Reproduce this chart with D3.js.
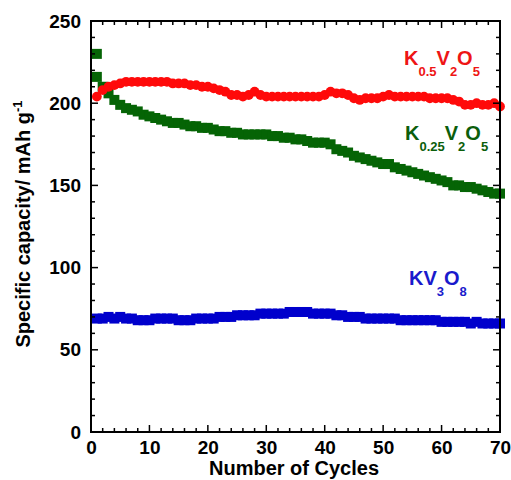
<!DOCTYPE html>
<html><head><meta charset="utf-8">
<script src="https://cdn.jsdelivr.net/npm/d3@7"></script>
<style>html,body{margin:0;padding:0;background:#fff;}svg{display:block;}</style>
</head><body>
<svg id="c" width="511" height="480"></svg>
<script>
// ---- data ----
const cycles = d3.range(1, 71);
const greenExtra = [{c: 1, v: 230}];
const greenVals = [216,210,206,202,199,197,196,195,193,192,191,190,189,188,188,187,186,186,185,185,184,183,183,182,182,181,181,181,181,181,180,180,179,179,178,178,177,176,176,176,175,172,171,170,168,167,166,165,164,163,163,161,160,159,158,157,156,155,154,153,152,150,150,149,149,148,147,146,145,145];
const redVals = [204,208,210,211,212,213,213,213,213,213,213,213,213,212,212,212,211,211,210,210,209,208,207,205,205,204,205,207,205,204,204,204,204,204,204,204,204,204,204,205,207,206,206,205,203,202,203,203,203,204,205,204,204,204,204,204,204,203,203,203,203,202,201,199,199,200,199,199,200,198];
const blueVals = [69,69,70,69,70,69,69,68,68,68,69,69,69,69,68,68,68,69,69,69,69,70,70,70,71,71,71,71,72,72,72,72,72,73,73,73,73,72,72,72,72,71,71,70,70,70,69,69,69,69,69,69,68,68,68,68,68,68,68,67,67,67,67,67,66,67,66,66,66,66];
const xTicks = [0,10,20,30,40,50,60,70];
const yTicks = [0,50,100,150,200,250];
const xTitle = "Number of Cycles";

const svg = d3.select("#c");
const L = 91, R = 500, T = 21, B = 432;
const x = d3.scaleLinear().domain([0, 70]).range([L, R]);
const y = d3.scaleLinear().domain([0, 250]).range([B, T]);
const font = "'Liberation Sans', Arial, Helvetica, sans-serif";

// series
const green = greenExtra.concat(cycles.map((c, i) => ({c, v: greenVals[i]})));
const red = cycles.map((c, i) => ({c, v: redVals[i]}));
const blue = cycles.map((c, i) => ({c, v: blueVals[i]}));

svg.append("g").selectAll("rect").data(blue).join("rect")
  .attr("x", d => x(d.c) - 5).attr("y", d => y(d.v) - 5)
  .attr("width", 10).attr("height", 10).attr("fill", "#0000cc");
svg.append("g").selectAll("rect").data(green).join("rect")
  .attr("x", d => x(d.c) - 5).attr("y", d => y(d.v) - 5)
  .attr("width", 10).attr("height", 10).attr("fill", "#056405");
svg.append("g").selectAll("circle").data(red).join("circle")
  .attr("cx", d => x(d.c)).attr("cy", d => y(d.v)).attr("r", 4.9).attr("fill", "#ff0a0a");

// axes ticks (inward)
const xMinor = d3.range(0, 71, 2);
const yMinor = d3.range(0, 251, 10);
const tg = svg.append("g").attr("stroke", "#000").attr("stroke-width", 1.5);
xMinor.forEach(t => {
  const len = t % 10 === 0 ? 7 : 4;
  tg.append("line").attr("x1", x(t)).attr("x2", x(t)).attr("y1", B).attr("y2", B - len);
  tg.append("line").attr("x1", x(t)).attr("x2", x(t)).attr("y1", T).attr("y2", T + len);
});
yMinor.forEach(t => {
  const len = t % 50 === 0 ? 7 : 4;
  tg.append("line").attr("y1", y(t)).attr("y2", y(t)).attr("x1", L).attr("x2", L + len);
  tg.append("line").attr("y1", y(t)).attr("y2", y(t)).attr("x1", R).attr("x2", R - len);
});
// frame
svg.append("rect").attr("x", L).attr("y", T).attr("width", R - L).attr("height", B - T)
  .attr("fill", "none").attr("stroke", "#000").attr("stroke-width", 2);

// tick labels via d3 axes
const xAxis = svg.append("g").attr("transform", `translate(0,${B})`)
  .call(d3.axisBottom(x).tickValues(xTicks).tickSize(0).tickPadding(9));
xAxis.select(".domain").remove();
xAxis.selectAll("text").attr("font-family", font).attr("font-weight", "bold").attr("font-size", 19).attr("fill", "#000");
const yAxis = svg.append("g").attr("transform", `translate(${L},0)`)
  .call(d3.axisLeft(y).tickValues(yTicks).tickSize(0).tickPadding(10));
yAxis.select(".domain").remove();
yAxis.selectAll("text").attr("font-family", font).attr("font-weight", "bold").attr("font-size", 19).attr("fill", "#000");

// titles
svg.append("text").attr("x", 294).attr("y", 475).attr("text-anchor", "middle")
  .attr("font-family", font).attr("font-weight", "bold").attr("font-size", 20).text(xTitle);
const yt = svg.append("text").attr("transform", "translate(30,224) rotate(-90)").attr("text-anchor", "middle")
  .attr("font-family", font).attr("font-weight", "bold").attr("font-size", 20);
yt.append("tspan").text("Specific capacity/ mAh g");
yt.append("tspan").attr("dy", -8).attr("font-size", 13).text("-1");

// series labels
function label(xp, yp, parts, color) {
  const t = svg.append("text").attr("x", xp).attr("y", yp).attr("fill", color)
    .attr("font-family", font).attr("font-weight", "bold");
  let sub = false;
  parts.forEach(([s, isSub]) => {
    const ts = t.append("tspan").text(s);
    if (isSub && !sub) { ts.attr("dy", 11).attr("font-size", 13); sub = true; }
    else if (!isSub && sub) { ts.attr("dy", -11).attr("font-size", 20); sub = false; }
    else ts.attr("font-size", isSub ? 13 : 20);
  });
}
label(404, 65, [["K",0],["0.5",1],["V",0],["2",1],["O",0],["5",1]], "#ee1515");
label(405, 140, [["K",0],["0.25",1],["V",0],["2",1],["O",0],["5",1]], "#0b5e0b");
label(409, 285, [["K",0],["V",0],["3",1],["O",0],["8",1]], "#1a1acc");
</script>
</body></html>
